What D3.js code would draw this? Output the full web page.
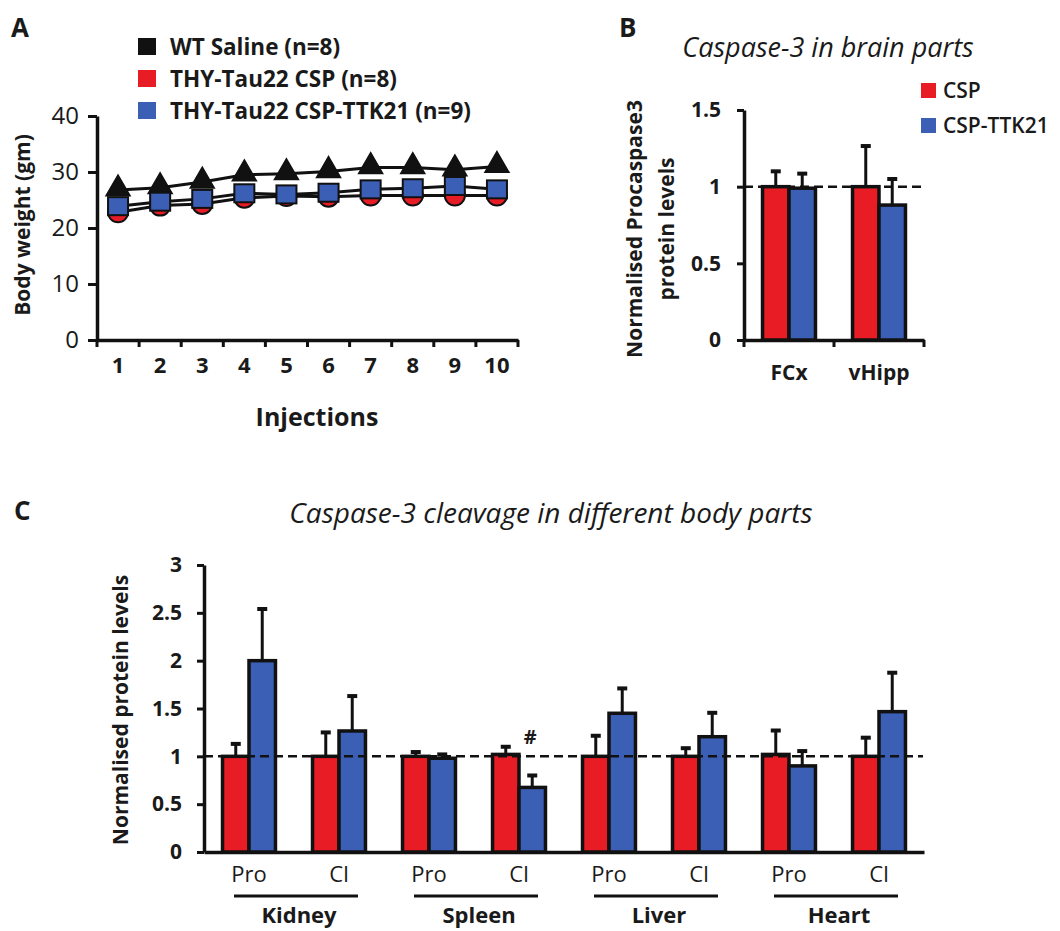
<!DOCTYPE html>
<html>
<head>
<meta charset="utf-8">
<title>Caspase-3 figure</title>
<script src="https://d3js.org/d3.v7.min.js"></script>
<style>
  body { margin: 0; background: #fff; }
  svg text { font-family: "Open Sans", sans-serif; fill: #1a1a1a; }
</style>
</head>
<body>
<script>
// ---- panel A: body weight
const injections = ["1", "2", "3", "4", "5", "6", "7", "8", "9", "10"];
const wtSaline = [26.8, 27.2, 28.2, 29.5, 29.7, 30.1, 30.8, 30.8, 30.4, 31.0];
const tauCsp = [22.8, 24.0, 24.3, 25.4, 25.7, 25.6, 25.8, 25.8, 25.8, 25.8];
const tauCspTtk = [23.9, 24.7, 25.2, 26.2, 26.0, 26.3, 26.9, 27.1, 27.5, 26.9];
const legendA = ["WT Saline (n=8)", "THY-Tau22 CSP (n=8)", "THY-Tau22 CSP-TTK21 (n=9)"];
const weightTicks = [0, 10, 20, 30, 40];

// ---- panel B: procaspase-3 in brain
const brainParts = ["FCx", "vHipp"];
const groups = ["CSP", "CSP-TTK21"];
const brainCsp = [1.0, 1.0];
const brainCspErr = [0.10, 0.265];
const brainTtk = [0.99, 0.88];
const brainTtkErr = [0.095, 0.17];
const brainTicks = [0, 0.5, 1, 1.5];

// ---- panel C: caspase-3 in body parts
const organs = ["Kidney", "Spleen", "Liver", "Heart"];
const forms = ["Pro", "Cl"];
const bodyCsp = [1.0, 1.0, 1.0, 1.02, 1.0, 1.0, 1.02, 1.0];
const bodyCspErr = [0.13, 0.25, 0.045, 0.08, 0.215, 0.085, 0.25, 0.195];
const bodyTtk = [2.0, 1.265, 0.98, 0.675, 1.45, 1.205, 0.9, 1.467];
const bodyTtkErr = [0.54, 0.365, 0.04, 0.125, 0.26, 0.25, 0.155, 0.407];
const bodyTicks = [0, 0.5, 1, 1.5, 2, 2.5, 3];

const RED = "#e81c25";
const BLUE = "#3c5fb6";
const INK = "#111";
const colour = { "CSP": RED, "CSP-TTK21": BLUE };

const svg = d3.select("body").append("svg")
    .attr("width", 1060)
    .attr("height", 931);

function styleAxis(g, size, weight) {
    g.select(".domain").attr("stroke", INK).attr("stroke-width", 3.5);
    g.selectAll(".tick line").attr("stroke", INK).attr("stroke-width", 3);
    g.selectAll(".tick text")
        .style("font-size", size + "px")
        .style("font-weight", weight)
        .attr("fill", "#1a1a1a");
}

function panelLetter(t, x, y) {
    svg.append("text").attr("x", x).attr("y", y).text(t)
        .style("font-size", "26px").style("font-weight", 700);
}

// error bar (upper half only) + cap
function errBar(g, x, yTop, yVal) {
    g.append("line").attr("x1", x).attr("x2", x).attr("y1", yVal).attr("y2", yTop)
        .attr("stroke", INK).attr("stroke-width", 3);
    g.append("line").attr("x1", x - 5).attr("x2", x + 5).attr("y1", yTop).attr("y2", yTop)
        .attr("stroke", INK).attr("stroke-width", 4);
}

// ================= A =================
panelLetter("A", 11, 37);
const gA = svg.append("g");
const xA = d3.scaleBand().domain(injections).range([97, 518]);
const yA = d3.scaleLinear().domain([0, 40]).range([340, 116]);
const cxA = i => xA(injections[i]) + xA.bandwidth() / 2;

gA.append("g")
    .attr("transform", "translate(97,0)")
    .call(d3.axisLeft(yA).tickValues(weightTicks).tickSize(9).tickSizeOuter(0).tickPadding(9))
    .call(g => styleAxis(g, 24, 400));

gA.append("g")
    .attr("transform", "translate(0,340)")
    .call(d3.axisBottom(xA).tickSize(0).tickPadding(17))
    .call(g => styleAxis(g, 22, 700));

gA.selectAll(".bt")
    .data(injections.map(d => xA(d)).concat([xA.range()[1]]))
    .join("line")
    .attr("x1", d => d).attr("x2", d => d)
    .attr("y1", 340).attr("y2", 347)
    .attr("stroke", INK).attr("stroke-width", 3);

gA.append("text").attr("x", 317).attr("y", 426).attr("text-anchor", "middle")
    .text("Injections").style("font-size", "25px").style("font-weight", 700);

gA.append("text").attr("transform", "translate(30,225) rotate(-90)")
    .attr("text-anchor", "middle").text("Body weight (gm)")
    .style("font-size", "21px").style("font-weight", 700);

const lineA = d3.line().x((d, i) => cxA(i)).y(d => yA(d));
[wtSaline, tauCsp, tauCspTtk].forEach(s => {
    gA.append("path").datum(s).attr("d", lineA)
        .attr("fill", "none").attr("stroke", INK).attr("stroke-width", 3);
});

gA.selectAll(".tri").data(wtSaline).join("path")
    .attr("transform", (d, i) => `translate(${cxA(i)},${yA(d) - 1})`)
    .attr("d", d3.symbol(d3.symbolTriangle, 250)())
    .attr("fill", INK).attr("stroke", INK).attr("stroke-width", 1.5);

gA.selectAll(".circ").data(tauCsp).join("circle")
    .attr("cx", (d, i) => cxA(i)).attr("cy", d => yA(d))
    .attr("r", 10)
    .attr("fill", RED).attr("stroke", INK).attr("stroke-width", 2);

gA.selectAll(".sq").data(tauCspTtk).join("rect")
    .attr("x", (d, i) => cxA(i) - 10).attr("y", d => yA(d) - 9)
    .attr("width", 20).attr("height", 18)
    .attr("fill", BLUE).attr("stroke", INK).attr("stroke-width", 2);

const legA = gA.append("g");
[INK, RED, BLUE].forEach((c, i) => {
    const cy = 47 + i * 32;
    legA.append("rect").attr("x", 138).attr("y", cy - 9).attr("width", 18).attr("height", 17).attr("fill", c);
    legA.append("text").attr("x", 170).attr("y", cy + 8).text(legendA[i])
        .style("font-size", "22.5px").style("font-weight", 700);
});

// ================= B =================
panelLetter("B", 619, 37);
const gB = svg.append("g");
const xB = d3.scaleBand().domain(brainParts).range([744, 924]);
const xBin = d3.scaleBand().domain(groups).range([0, xB.bandwidth()]).paddingOuter(0.7);
const yB = d3.scaleLinear().domain([0, 1.5]).range([340, 110]);

gB.append("text").attr("x", 828).attr("y", 57).attr("text-anchor", "middle")
    .text("Caspase-3 in brain parts")
    .style("font-size", "27px").style("font-style", "italic");

gB.append("g")
    .attr("transform", "translate(744,0)")
    .call(d3.axisLeft(yB).tickValues(brainTicks).tickFormat(d => d).tickSize(7).tickSizeOuter(0).tickPadding(16))
    .call(g => styleAxis(g, 21, 700));

gB.append("g")
    .attr("transform", "translate(0,340)")
    .call(d3.axisBottom(xB).tickSize(0).tickPadding(25))
    .call(g => styleAxis(g, 21, 700));

gB.selectAll(".bt")
    .data(brainParts.map(d => xB(d)).concat([xB.range()[1]]))
    .join("line")
    .attr("x1", d => d).attr("x2", d => d)
    .attr("y1", 340).attr("y2", 347)
    .attr("stroke", INK).attr("stroke-width", 3);

const brainRows = brainParts.flatMap((p, i) => [
    { part: p, group: "CSP", v: brainCsp[i], e: brainCspErr[i] },
    { part: p, group: "CSP-TTK21", v: brainTtk[i], e: brainTtkErr[i] }
]);

gB.selectAll(".bar").data(brainRows).join("rect")
    .attr("x", d => xB(d.part) + xBin(d.group))
    .attr("y", d => yB(d.v))
    .attr("width", xBin.bandwidth())
    .attr("height", d => yB(0) - yB(d.v))
    .attr("fill", d => colour[d.group])
    .attr("stroke", INK).attr("stroke-width", 3.5);

brainRows.forEach(d => {
    const x = xB(d.part) + xBin(d.group) + xBin.bandwidth() / 2;
    errBar(gB, x, yB(d.v + d.e), yB(d.v));
});

gB.append("line").attr("x1", 744).attr("x2", 922)
    .attr("y1", yB(1)).attr("y2", yB(1))
    .attr("stroke", INK).attr("stroke-width", 2.5).attr("stroke-dasharray", "9,5");

gB.append("text").attr("transform", "translate(642,229) rotate(-90)")
    .attr("text-anchor", "middle").text("Normalised  Procaspase3")
    .style("font-size", "21px").style("font-weight", 700);
gB.append("text").attr("transform", "translate(674,229) rotate(-90)")
    .attr("text-anchor", "middle").text("protein levels")
    .style("font-size", "21px").style("font-weight", 700);

groups.forEach((gname, i) => {
    const cy = 90 + i * 35;
    gB.append("rect").attr("x", 921).attr("y", cy - 7).attr("width", 15).attr("height", 15).attr("fill", colour[gname]);
    gB.append("text").attr("x", 943).attr("y", cy + 8).text(gname)
        .style("font-size", "21px").style("font-weight", 600);
});

// ================= C =================
panelLetter("C", 14, 520);
const gC = svg.append("g");
const subKeys = organs.flatMap(o => forms.map(f => o + " " + f));
const xC = d3.scaleBand().domain(subKeys).range([204, 924]);
const xCin = d3.scaleBand().domain(groups).range([0, xC.bandwidth()]).paddingOuter(0.7);
const yC = d3.scaleLinear().domain([0, 3]).range([852, 565]);

gC.append("text").attr("x", 551).attr("y", 523).attr("text-anchor", "middle")
    .text("Caspase-3 cleavage in different body parts")
    .style("font-size", "28px").style("font-style", "italic");

gC.append("g")
    .attr("transform", "translate(204,0)")
    .call(d3.axisLeft(yC).tickValues(bodyTicks).tickFormat(d => d).tickSize(7).tickSizeOuter(0).tickPadding(15))
    .call(g => styleAxis(g, 21, 700));

gC.append("g")
    .attr("transform", "translate(0,852)")
    .call(d3.axisBottom(xC).tickSize(0).tickPadding(14).tickFormat(k => k.split(" ")[1]))
    .call(g => styleAxis(g, 22, 400));

const bodyRows = subKeys.flatMap((k, i) => [
    { key: k, group: "CSP", v: bodyCsp[i], e: bodyCspErr[i] },
    { key: k, group: "CSP-TTK21", v: bodyTtk[i], e: bodyTtkErr[i] }
]);

gC.selectAll(".bar").data(bodyRows).join("rect")
    .attr("x", d => xC(d.key) + xCin(d.group))
    .attr("y", d => yC(d.v))
    .attr("width", xCin.bandwidth())
    .attr("height", d => yC(0) - yC(d.v))
    .attr("fill", d => colour[d.group])
    .attr("stroke", INK).attr("stroke-width", 3.5);

bodyRows.forEach(d => {
    const x = xC(d.key) + xCin(d.group) + xCin.bandwidth() / 2;
    errBar(gC, x, yC(d.v + d.e), yC(d.v));
});

gC.append("line").attr("x1", 204).attr("x2", 923)
    .attr("y1", yC(1)).attr("y2", yC(1))
    .attr("stroke", INK).attr("stroke-width", 2.5).attr("stroke-dasharray", "9,5");

// significance mark over Spleen Cl CSP-TTK21
const hashRow = bodyRows.find(d => d.key === "Spleen Cl" && d.group === "CSP-TTK21");
gC.append("text")
    .attr("x", xC(hashRow.key) + xCin(hashRow.group) + xCin.bandwidth() / 2 - 2)
    .attr("y", yC(hashRow.v + hashRow.e) - 31)
    .attr("text-anchor", "middle").text("#")
    .style("font-size", "20px").style("font-weight", 700);

// organ brackets
organs.forEach(o => {
    const mid = (xC(o + " Pro") + xC(o + " Cl") + xC.bandwidth()) / 2 + 2;
    gC.append("line").attr("x1", mid - 62).attr("x2", mid + 62)
        .attr("y1", 896).attr("y2", 896)
        .attr("stroke", INK).attr("stroke-width", 3);
    gC.append("text").attr("x", mid + 3).attr("y", 923).attr("text-anchor", "middle")
        .text(o).style("font-size", "22px").style("font-weight", 700);
});

gC.append("text").attr("transform", "translate(128,710) rotate(-90)")
    .attr("text-anchor", "middle").text("Normalised  protein levels")
    .style("font-size", "21px").style("font-weight", 700);
</script>
</body>
</html>
